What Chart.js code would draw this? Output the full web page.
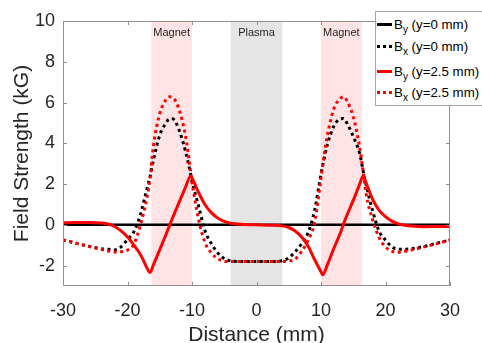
<!DOCTYPE html>
<html>
<head>
<meta charset="utf-8">
<script src="https://cdn.jsdelivr.net/npm/chart.js@4.4.1/dist/chart.umd.min.js"></script>
<style>
  body { margin: 0; background: #fff; }
  #wrap { position: relative; width: 482px; height: 343px; overflow: hidden; }
  #legend {
    position: absolute; left: 375px; top: 11px; width: 120px; height: 93px;
    border: 1px solid #a6a6a6; background: #fff;
    font-family: 'Liberation Sans', Arial, sans-serif; font-size: 13.3px; color: #000;
  }
  .row { position: absolute; left: 1px; height: 16px; display: flex; align-items: center; white-space: nowrap; }
  .swatch { width: 15px; height: 3px; margin-right: 2px; }
  .row sub { font-size: 10px; vertical-align: -4px; line-height: 0; }
</style>
</head>
<body>
<div id="wrap">
  <canvas id="fieldChart" width="482" height="343"></canvas>
  <div id="legend"></div>
</div>
<script>
// distance along the axis (mm)
const distance = [-30, -28, -26, -24, -23, -22, -21, -20, -19, -18, -17, -16.5, -16, -15, -14, -13.5, -13, -12, -11, -10.25,
  -10, -9, -8, -7, -6, -5, -4, -2, 0, 2, 4, 5, 6, 7, 8, 9, 10, 10.25, 11, 12,
  13, 13.5, 14, 15, 16, 16.5, 17, 18, 19, 20, 21, 22, 23, 24, 26, 28, 30];

// By at y=0 mm (kG)
const byCenter = [0, 0, 0, 0, 0, 0, 0, 0, 0, 0, 0, 0, 0, 0, 0, 0, 0, 0, 0, 0,
  0, 0, 0, 0, 0, 0, 0, 0, 0, 0, 0, 0, 0, 0, 0, 0, 0, 0, 0, 0,
  0, 0, 0, 0, 0, 0, 0, 0, 0, 0, 0, 0, 0, 0, 0, 0, 0];

// Bx at y=0 mm (kG)
const bxCenter = [-0.74, -0.9, -1.05, -1.18, -1.2, -1.23, -1.08, -0.72, -0.33, 0.5, 1.75, 2.37, 3.15, 4.4, 5.02, 5.2, 5.2, 4.65, 3.6, 2.55,
  2.15, 0.95, -0.28, -0.92, -1.38, -1.66, -1.77, -1.8, -1.8, -1.8, -1.76, -1.62, -1.32, -0.92, -0.38, 0.7, 2.5, 2.9, 3.95, 4.85,
  5.2, 5.22, 5.0, 4.33, 3.5, 2.7, 1.95, 0.7, -0.3, -0.75, -1.08, -1.2, -1.2, -1.17, -1.06, -0.9, -0.74];

// By at y=2.5 mm (kG)
const byOffset = [0.1, 0.12, 0.12, 0.09, 0.04, -0.08, -0.3, -0.6, -1.0, -1.45, -2.1, -2.34, -1.98, -1.22, -0.45, -0.05, 0.35, 1.1, 1.85, 2.37,
  2.3, 1.6, 1.0, 0.6, 0.33, 0.17, 0.08, 0.02, 0.0, -0.02, -0.05, -0.13, -0.3, -0.6, -1.05, -1.7, -2.3, -2.45, -1.95, -1.15,
  -0.4, 0.05, 0.45, 1.2, 2.0, 2.38, 2.05, 1.25, 0.72, 0.4, 0.18, 0.05, -0.02, -0.06, -0.09, -0.08, -0.08];

// Bx at y=2.5 mm (kG)
const bxOffset = [-0.74, -0.9, -1.06, -1.21, -1.28, -1.33, -1.32, -1.24, -0.95, 0.0, 1.3, 2.3, 3.84, 5.45, 6.15, 6.28, 6.25, 5.65, 4.35, 2.7,
  2.1, 0.3, -0.85, -1.38, -1.66, -1.78, -1.8, -1.8, -1.8, -1.8, -1.8, -1.77, -1.68, -1.3, -0.75, 0.1, 2.3, 2.9, 4.4, 5.7,
  6.2, 6.28, 6.1, 5.3, 3.8, 2.7, 1.5, 0.25, -0.62, -1.08, -1.3, -1.34, -1.3, -1.24, -1.08, -0.92, -0.74];

const seriesNames = ['B_y (y=0 mm)', 'B_x (y=0 mm)', 'B_y (y=2.5 mm)', 'B_x (y=2.5 mm)'];

const regionLabels = ['Magnet', 'Plasma', 'Magnet'];
const regionStart = [-16.3, -4, 10];
const regionEnd = [-10, 4, 16.3];

const xTicks = [-30, -20, -10, 0, 10, 20, 30];
const yTicks = [-2, 0, 2, 4, 6, 8, 10];

const FONT = "'Liberation Sans', Arial, sans-serif";
const TEXT = '#262626';
const AXIS = '#8f8f8f';

const lineColors = ['#000000', '#000000', '#ff0000', '#ff0000'];
const dotted = [false, true, false, true];
const seriesValues = [byCenter, bxCenter, byOffset, bxOffset];

const bands = {
  id: 'bands',
  beforeDatasetsDraw(chart) {
    const { ctx, chartArea: a, scales: { x } } = chart;
    ctx.save();
    regionLabels.forEach((label, i) => {
      const x0 = x.getPixelForValue(regionStart[i]);
      const x1 = x.getPixelForValue(regionEnd[i]);
      ctx.fillStyle = label === 'Plasma' ? '#e5e5e5' : '#ffe3e5';
      ctx.fillRect(x0, a.top, x1 - x0, a.bottom - a.top);
      ctx.fillStyle = TEXT;
      ctx.font = `11px ${FONT}`;
      ctx.textAlign = 'center';
      ctx.textBaseline = 'top';
      ctx.fillText(label, (x0 + x1) / 2, a.top + 6);
    });
    ctx.restore();
  }
};

// matlab style box with inward ticks
const axesBox = {
  id: 'axesBox',
  afterDatasetsDraw(chart) {
    const { ctx, chartArea: a, scales: { x, y } } = chart;
    ctx.save();
    ctx.strokeStyle = AXIS;
    ctx.lineWidth = 1;
    ctx.strokeRect(a.left + 0.5, a.top + 0.5, a.right - a.left - 1, a.bottom - a.top - 1);
    ctx.beginPath();
    xTicks.forEach(v => {
      const px = Math.round(x.getPixelForValue(v)) + 0.5;
      ctx.moveTo(px, a.bottom); ctx.lineTo(px, a.bottom - 4);
      ctx.moveTo(px, a.top); ctx.lineTo(px, a.top + 4);
    });
    yTicks.forEach(v => {
      const py = Math.round(y.getPixelForValue(v)) + 0.5;
      ctx.moveTo(a.left, py); ctx.lineTo(a.left + 4, py);
      ctx.moveTo(a.right, py); ctx.lineTo(a.right - 4, py);
    });
    ctx.stroke();
    ctx.restore();
  }
};

const datasets = seriesNames.map((name, i) => ({
  label: name,
  data: distance.map((d, j) => ({ x: d, y: seriesValues[i][j] })),
  borderColor: lineColors[i],
  borderWidth: i === 0 ? 2.5 : 3,
  borderDash: dotted[i] ? [3, 3.5] : [],
  borderCapStyle: 'butt',
  pointRadius: 0,
  cubicInterpolationMode: 'monotone',
  fill: false,
  order: 4 - i
}));

new Chart(document.getElementById('fieldChart').getContext('2d'), {
  type: 'line',
  data: { datasets },
  plugins: [bands, axesBox],
  options: {
    responsive: false,
    animation: false,
    devicePixelRatio: 1,
    layout: { padding: { top: 21, right: 32, left: 0, bottom: 0 } },
    plugins: { legend: { display: false }, tooltip: { enabled: false } },
    scales: {
      x: {
        type: 'linear',
        min: -30,
        max: 30,
        afterBuildTicks: s => { s.ticks = xTicks.map(v => ({ value: v })); },
        afterFit: s => { s.height = 57; },
        grid: { display: false, drawTicks: false },
        border: { display: false },
        ticks: { color: TEXT, font: { family: FONT, size: 18 }, padding: 14, maxRotation: 0 },
        title: { display: true, text: 'Distance (mm)', color: TEXT, font: { family: FONT, size: 21, lineHeight: 0.78 }, padding: 0 }
      },
      y: {
        min: -3,
        max: 10,
        afterBuildTicks: s => { s.ticks = yTicks.map(v => ({ value: v })); },
        afterFit: s => { s.width = 63; },
        grid: { display: false, drawTicks: false },
        border: { display: false },
        ticks: { color: TEXT, font: { family: FONT, size: 18 }, padding: 8 },
        title: { display: true, text: 'Field Strength (kG)', color: TEXT, font: { family: FONT, size: 21, lineHeight: 1 }, padding: { top: 12 } }
      }
    }
  }
});

// legend with subscripts
const legendEl = document.getElementById('legend');
const rowTops = [4, 26, 51, 72];
seriesNames.forEach((name, i) => {
  const [main, rest] = name.split('_');
  const row = document.createElement('div');
  row.className = 'row';
  row.style.top = rowTops[i] + 'px';
  const sw = document.createElement('span');
  sw.className = 'swatch';
  sw.style.background = dotted[i]
    ? `repeating-linear-gradient(90deg, ${lineColors[i]} 0 3px, transparent 3px 6px)`
    : lineColors[i];
  row.appendChild(sw);
  const label = document.createElement('span');
  label.innerHTML = `${main}<sub>${rest.charAt(0)}</sub>${rest.slice(1)}`;
  row.appendChild(label);
  legendEl.appendChild(row);
});
</script>
</body>
</html>
